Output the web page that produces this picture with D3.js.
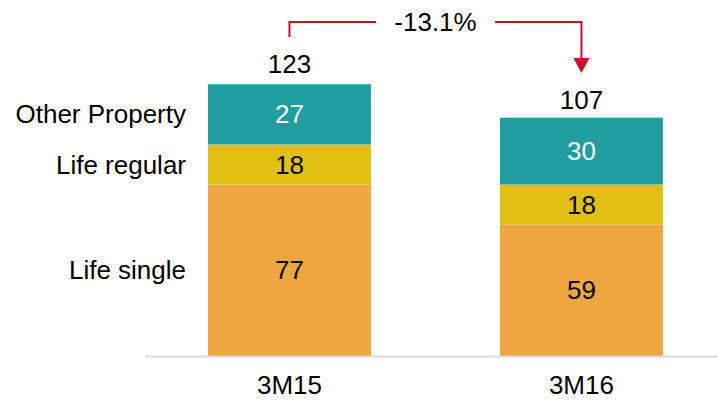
<!DOCTYPE html>
<html>
<head>
<meta charset="utf-8">
<script src="https://cdn.jsdelivr.net/npm/d3@7"></script>
<style>
	body { margin: 0; background: #fff; }
	text { font-family: "Liberation Sans", Arial, sans-serif; }
</style>
</head>
<body>
<div id="widget"></div>
<script>
// chart data
var categories = ["3M15", "3M16"];
var seriesNames = ["Life single", "Life regular", "Other Property"];
var lifeSingle = [77, 59];
var lifeRegular = [18, 18];
var otherProperty = [27, 30];
var totals = [123, 107];
var changeLabel = "-13.1%";

var colours = ["#f0a640", "#e2c013", "#209e9f"];
var labelColours = ["#000", "#000", "#fff"];

var width = 718, height = 401;
var baseY = 356;
var fontSize = "26px";

var svg = d3.select("#widget")
	.append("svg")
	.attr("width", width)
	.attr("height", height);

var x = d3.scaleBand()
	.domain(categories)
	.range([120.4, 750.5])
	.paddingInner(0.442)
	.paddingOuter(0.3);

var y = d3.scaleLinear()
	.domain([0, 123])
	.range([baseY, 82]);

// build stack
var rows = categories.map(function(c, i) {
	return { cat: c, "Life single": lifeSingle[i], "Life regular": lifeRegular[i], "Other Property": otherProperty[i] };
});
var stack = d3.stack().keys(seriesNames)(rows);

var layers = svg.selectAll("g.layer")
	.data(stack)
	.enter()
	.append("g")
	.attr("class", "layer")
	.attr("fill", function(d, i) { return colours[i]; });

layers.selectAll("rect")
	.data(function(d) { return d; })
	.enter()
	.append("rect")
	.attr("x", function(d) { return x(d.data.cat); })
	.attr("width", x.bandwidth())
	.attr("y", function(d) { return y(d[1]); })
	.attr("height", function(d) { return y(d[0]) - y(d[1]); });

// segment labels
stack.forEach(function(layer, li) {
	svg.selectAll("text.seg" + li)
		.data(layer)
		.enter()
		.append("text")
		.attr("x", function(d) { return x(d.data.cat) + x.bandwidth() / 2; })
		.attr("y", function(d) { return (y(d[0]) + y(d[1])) / 2; })
		.attr("dy", "0.35em")
		.attr("font-size", fontSize)
		.attr("text-anchor", "middle")
		.attr("fill", labelColours[li])
		.text(function(d) { return d[1] - d[0]; });
});

// totals
svg.selectAll("text.total")
	.data(totals)
	.enter()
	.append("text")
	.attr("x", function(d, i) { return x(categories[i]) + x.bandwidth() / 2; })
	.attr("y", function(d) { return y(d) - 9; })
	.attr("font-size", fontSize)
	.attr("text-anchor", "middle")
	.text(function(d) { return d; });

// series names left of first bar
var firstRow = stack.map(function(l) { return l[0]; });
svg.selectAll("text.series")
	.data(firstRow)
	.enter()
	.append("text")
	.attr("x", 186)
	.attr("y", function(d) { return (y(d[0]) + y(d[1])) / 2; })
	.attr("dy", "0.35em")
	.attr("font-size", fontSize)
	.attr("text-anchor", "end")
	.text(function(d, i) { return seriesNames[i]; });

// baseline
svg.append("line")
	.attr("x1", 145).attr("x2", width)
	.attr("y1", baseY + 0.5).attr("y2", baseY + 0.5)
	.attr("stroke", "#d9d9d9")
	.attr("stroke-width", 2);

// category labels
svg.selectAll("text.cat")
	.data(categories)
	.enter()
	.append("text")
	.attr("x", function(d) { return x(d) + x.bandwidth() / 2; })
	.attr("y", 394)
	.attr("font-size", fontSize)
	.attr("text-anchor", "middle")
	.text(function(d) { return d; });

// change bracket
var x0 = x(categories[0]) + x.bandwidth() / 2;
var x1 = x(categories[1]) + x.bandwidth() / 2;
var red = "#c8102e";
var topY = 22;
svg.append("path")
	.attr("d", "M" + x0 + "," + 37 + "V" + topY + "H" + 376)
	.attr("fill", "none")
	.attr("stroke", red)
	.attr("stroke-width", 2);
svg.append("path")
	.attr("d", "M" + 495 + "," + topY + "H" + x1 + "V" + 60)
	.attr("fill", "none")
	.attr("stroke", red)
	.attr("stroke-width", 2);
svg.append("path")
	.attr("d", "M" + (x1 - 8) + ",58L" + (x1 + 8) + ",58L" + x1 + ",73Z")
	.attr("fill", red);
svg.append("text")
	.attr("x", (376 + 495) / 2)
	.attr("y", topY)
	.attr("dy", "0.35em")
	.attr("font-size", fontSize)
	.attr("text-anchor", "middle")
	.text(changeLabel);
</script>
</body>
</html>
